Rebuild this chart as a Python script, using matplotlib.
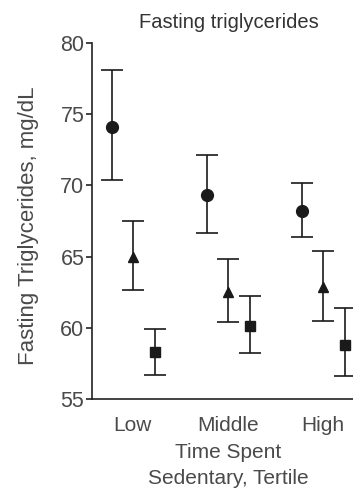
import matplotlib
matplotlib.use("Agg")
import matplotlib.pyplot as plt
import numpy as np

categories = ["Low", "Middle", "High"]
circle_mean = [74.1, 69.3, 68.2]
circle_lo = [70.4, 66.65, 66.4]
circle_hi = [78.1, 72.1, 70.2]
tri_mean = [65.0, 62.5, 62.9]
tri_lo = [62.65, 60.4, 60.5]
tri_hi = [67.5, 64.8, 65.4]
sq_mean = [58.3, 60.1, 58.8]
sq_lo = [56.7, 58.2, 56.6]
sq_hi = [59.9, 62.2, 61.4]
yticks = [55, 60, 65, 70, 75, 80]

plt.rcParams['font.family'] = ['Liberation Sans', 'DejaVu Sans']
txt = '#4a4a4a'

fig = plt.figure(figsize=(3.53, 4.88), dpi=100)
ax = fig.add_axes([92/353, 1-399/488, (364-92)/353, (399-43)/488])

x = np.arange(len(categories))
series = [
    (circle_mean, circle_lo, circle_hi, 'o', -0.22, 8.5),
    (tri_mean, tri_lo, tri_hi, '^', 0.0, 7.5),
    (sq_mean, sq_lo, sq_hi, 's', 0.23, 7.5),
]
for m, lo, hi, mk, off, ms in series:
    m = np.array(m); lo = np.array(lo); hi = np.array(hi)
    ax.errorbar(x + off, m, yerr=[m - lo, hi - m], fmt=mk, color='#1a1a1a',
                ms=ms, capsize=8, elinewidth=1.2, capthick=1.2, clip_on=False)

ax.set_xlim(-0.43, 2.43)
ax.set_ylim(55, 80)
ax.set_yticks(yticks)
ax.set_xticks(x)
ax.set_xticklabels(categories)
ax.spines['top'].set_visible(False)
ax.spines['right'].set_visible(False)
for s in ['left', 'bottom']:
    ax.spines[s].set_color('#222222')
    ax.spines[s].set_linewidth(1.2)
ax.tick_params(axis='y', length=4.5, width=1.2, color='#222222', labelsize=15.5, labelcolor=txt, pad=1)
ax.tick_params(axis='x', length=0, labelsize=15, labelcolor=txt, pad=12)

fig.text(229/353, 1-22/488, "Fasting triglycerides", ha='center', va='center', fontsize=14.5, color='#333333')
fig.text(29/353, 1-226/488, "Fasting Triglycerides, mg/dL", ha='center', va='center', rotation=90, fontsize=16, color=txt)
fig.text(228/353, 1-453/488, "Time Spent", ha='center', va='center', fontsize=15, color=txt)
fig.text(228/353, 1-478/488, "Sedentary, Tertile", ha='center', va='center', fontsize=15, color=txt)

fig.savefig("out.png", dpi=100)
